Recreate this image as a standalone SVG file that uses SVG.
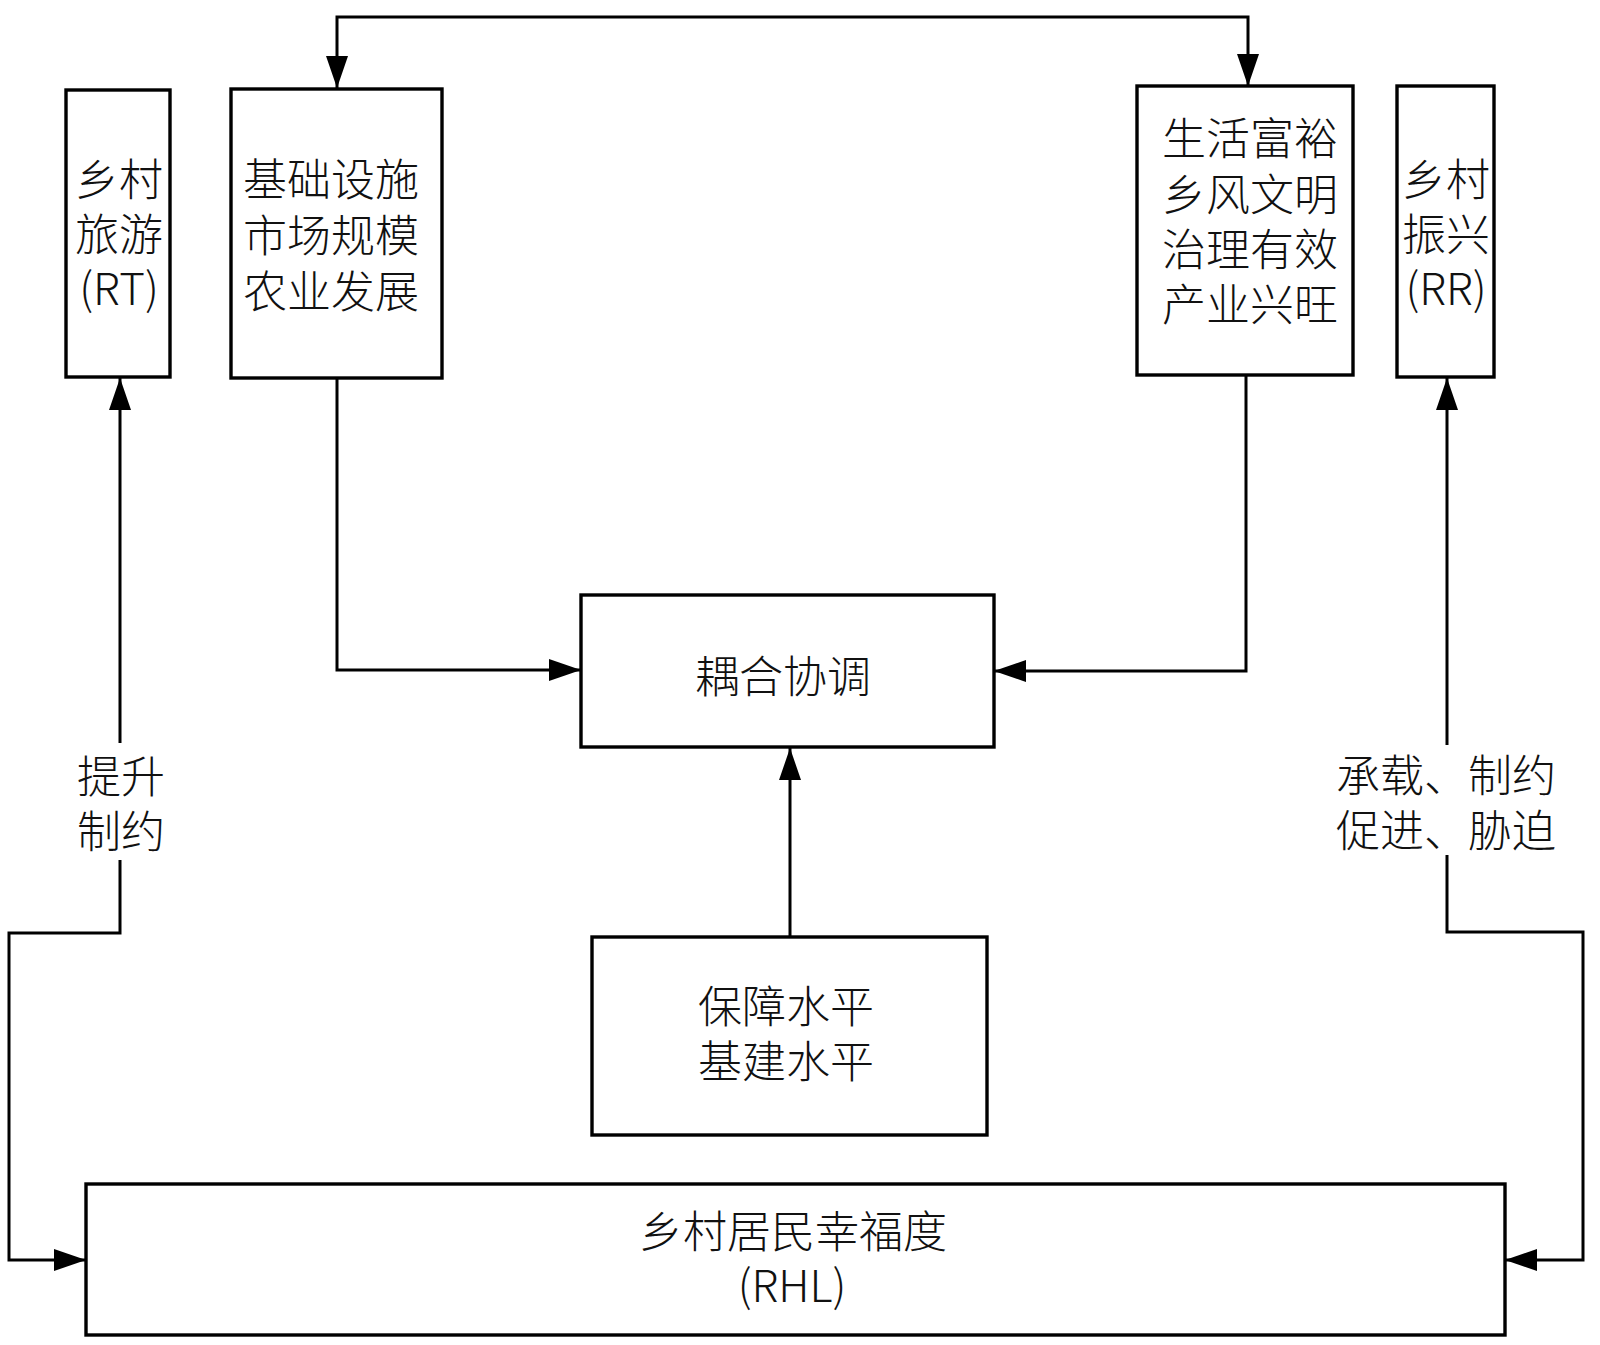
<svg xmlns="http://www.w3.org/2000/svg" width="1600" height="1345" viewBox="0 0 1600 1345">
<style>
.box{fill:#fff;stroke:#000;stroke-width:3.4}
.t{font-family:"Noto Sans CJK SC","Noto Sans",sans-serif;font-size:44px;font-weight:300;fill:#111;text-anchor:middle}
.c{fill:none;stroke:#000;stroke-width:3}
</style>
<defs>
<marker id="ah" viewBox="0 0 32 22" refX="32" refY="11" markerWidth="32" markerHeight="22" markerUnits="userSpaceOnUse" orient="auto-start-reverse">
<path d="M0,0 L32,11 L0,22 Z" fill="#000"/>
</marker>
</defs>
<rect width="1600" height="1345" fill="#fff"/>
<g id="connectors">
<path class="c" d="M337,88 L337,17 L1248,17 L1248,86" marker-start="url(#ah)" marker-end="url(#ah)"/>
<path class="c" d="M337,378 L337,670 L581,670" marker-end="url(#ah)"/>
<path class="c" d="M1246,375 L1246,671 L994,671" marker-end="url(#ah)"/>
<path class="c" d="M790,937 L790,748" marker-end="url(#ah)"/>
<path class="c" d="M120,743 L120,378" marker-end="url(#ah)"/>
<path class="c" d="M120,860 L120,933 L9,933 L9,1260 L86,1260" marker-end="url(#ah)"/>
<path class="c" d="M1447,745 L1447,378" marker-end="url(#ah)"/>
<path class="c" d="M1447,855 L1447,932 L1583,932 L1583,1260 L1505,1260" marker-end="url(#ah)"/>
<text class="t" x="121" y="793">提升</text>
<text class="t" x="121" y="848">制约</text>
<text class="t" x="1446" y="792">承载、制约</text>
<text class="t" x="1446" y="847">促进、胁迫</text>
</g>
<g id="rt">
<rect class="box" x="66" y="90" width="104" height="287"/>
<text class="t" x="119" y="196">乡村</text>
<text class="t" x="119" y="251">旅游</text>
<text class="t" x="119" y="305">(RT)</text>
</g>
<g id="infra">
<rect class="box" x="231" y="89" width="211" height="289"/>
<text class="t" x="331" y="196">基础设施</text>
<text class="t" x="331" y="252">市场规模</text>
<text class="t" x="331" y="308">农业发展</text>
</g>
<g id="life">
<rect class="box" x="1137" y="86" width="216" height="289"/>
<text class="t" x="1250" y="155">生活富裕</text>
<text class="t" x="1250" y="211">乡风文明</text>
<text class="t" x="1250" y="266">治理有效</text>
<text class="t" x="1250" y="321">产业兴旺</text>
</g>
<g id="rr">
<rect class="box" x="1397" y="86" width="97" height="291"/>
<text class="t" x="1446" y="196">乡村</text>
<text class="t" x="1446" y="251">振兴</text>
<text class="t" x="1446" y="305">(RR)</text>
</g>
<g id="coupling">
<rect class="box" x="581" y="595" width="413" height="152"/>
<text class="t" x="783" y="693">耦合协调</text>
</g>
<g id="support">
<rect class="box" x="592" y="937" width="395" height="198"/>
<text class="t" x="786" y="1023">保障水平</text>
<text class="t" x="786" y="1078">基建水平</text>
</g>
<g id="rhl">
<rect class="box" x="86" y="1184" width="1419" height="151"/>
<text class="t" x="793" y="1248">乡村居民幸福度</text>
<text class="t" x="792" y="1302">(RHL)</text>
</g>
</svg>
